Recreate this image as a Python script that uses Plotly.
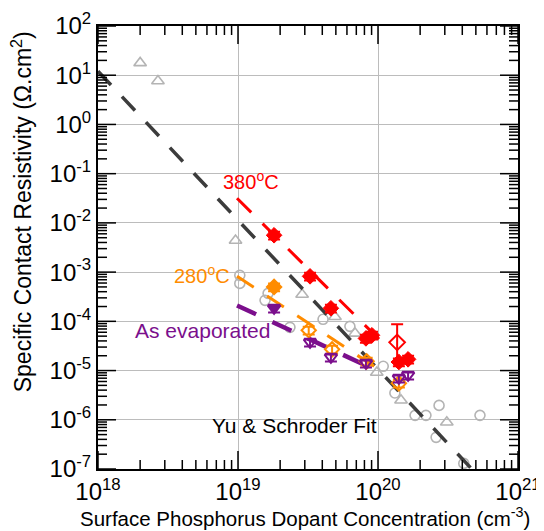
import math
import plotly.graph_objects as go

# ---------------- data ----------------
# Literature data (gray)
lit_circle_x = [1.03e19, 1.03e19, 1.56e19, 1.64e19, 2.35e19, 4.05e19, 6.3e19, 1.09e20,
                1.32e20, 1.84e20, 2.2e20, 2.73e20, 5.35e20, 2.6e20, 4.1e20]
lit_circle_y = [8.6e-4, 5.9e-4, 2.67e-4, 3.7e-4, 7.55e-5, 1.1e-4, 7.9e-5, 1.22e-5,
                3.5e-6, 1.23e-6, 1.23e-6, 1.96e-6, 1.23e-6, 4.4e-7, 1.3e-7]
lit_tri_x = [2.0e18, 2.68e18, 9.6e18, 2.87e19, 4.93e19, 6.85e19, 9.8e19, 1.46e20, 3.1e20]
lit_tri_y = [17.8, 7.65, 4.4e-3, 3.5e-4, 1.24e-4, 5.7e-5, 9.1e-6, 2.5e-6, 8.9e-7]

# Yu & Schroder fit (end points)
fit_x = [1.0e18, 4.6e20]
fit_y = [12.1, 1.05e-7]

# 380 C
r380_x = [1.81e19, 3.27e19, 4.61e19, 8.2e19, 9.06e19, 1.41e20, 1.64e20]
r380_y = [5.6e-3, 8.2e-4, 1.84e-4, 4.5e-5, 5.2e-5, 1.49e-5, 1.69e-5]
r380_open_x = [1.37e20]
r380_open_y = [3.74e-5]
r380_open_err_plus = [4.96e-5]
r380_open_err_minus = [2.25e-5]
r380_fit_x = [9.84e18, 1.09e20]
r380_fit_y = [3.16e-2, 3.57e-5]

# 280 C
o280_x = [1.81e19, 3.2e19, 4.7e19, 8.3e19, 1.41e20]
o280_y = [5.0e-4, 6.6e-5, 2.7e-5, 1.54e-5, 5.5e-6]
o280_fit_x = [9.84e18, 1.09e20]
o280_fit_y = [8.2e-4, 9.2e-6]

# As evaporated
pev_x = [1.81e19, 3.27e19, 4.61e19, 8.2e19, 1.41e20, 1.64e20]
pev_y = [1.84e-4, 3.74e-5, 1.86e-5, 1.4e-5, 6.95e-6, 8.0e-6]
pev_fit_x = [9.84e18, 9.06e19]
pev_fit_y = [2.1e-4, 1.11e-5]

x_exps = [18, 19, 20, 21]
y_exps = [2, 1, 0, -1, -2, -3, -4, -5, -6, -7]

RED = "#ff0000"
ORANGE = "#ff8c00"
PURPLE = "#7b0f8c"
GRAY = "#b4b4b4"
FIT = "#3c3c3c"

FONT = "Liberation Sans, Arial"
W, H = 536, 523  # page adds an 8px body margin
ML, MR, MT, MB = 90, 26, 18, 62
PW, PH = W - ML - MR, H - MT - MB
XR, YR = [18, 21], [-7, 2]

fig = go.Figure()

# ---- inside tick marks on all four sides, built from the axis tick values ----
major_x = [10.0 ** e for e in x_exps]
major_y = [10.0 ** e for e in y_exps]
minor_x = [m * 10.0 ** e for e in x_exps[:-1] for m in range(2, 10)]
minor_y = [m * 10.0 ** e for e in range(YR[0], YR[1]) for m in range(2, 10)]

tx, ty = [], []
for vals, L in ((major_x, 18), (minor_x, 9)):
    dy = L / PH * (YR[1] - YR[0])
    for v in vals:
        tx += [v, v, None, v, v, None]
        ty += [10.0 ** YR[0], 10.0 ** (YR[0] + dy), None, 10.0 ** YR[1], 10.0 ** (YR[1] - dy), None]
for vals, L in ((major_y, 18), (minor_y, 9)):
    dx = L / PW * (XR[1] - XR[0])
    for v in vals:
        tx += [10.0 ** XR[0], 10.0 ** (XR[0] + dx), None, 10.0 ** XR[1], 10.0 ** (XR[1] - dx), None]
        ty += [v, v, None, v, v, None]

fig.add_trace(go.Scatter(x=lit_circle_x, y=lit_circle_y, mode="markers",
                         marker=dict(symbol="circle-open", size=10, color=GRAY, line=dict(width=1.6, color=GRAY))))
fig.add_trace(go.Scatter(x=lit_tri_x, y=lit_tri_y, mode="markers",
                         marker=dict(symbol="triangle-up-open", size=11, color=GRAY, line=dict(width=1.6, color=GRAY))))

fig.add_trace(go.Scatter(x=fit_x, y=fit_y, mode="lines",
                         line=dict(color=FIT, width=3.5, dash="19px,16px")))
fig.add_trace(go.Scatter(x=r380_fit_x, y=r380_fit_y, mode="lines",
                         line=dict(color=RED, width=3, dash="20px,16px")))
fig.add_trace(go.Scatter(x=o280_fit_x, y=o280_fit_y, mode="lines",
                         line=dict(color=ORANGE, width=3, dash="20px,16px")))
fig.add_trace(go.Scatter(x=pev_fit_x, y=pev_fit_y, mode="lines",
                         line=dict(color=PURPLE, width=4.5, dash="21px,18px")))

fig.add_trace(go.Scatter(x=o280_x, y=o280_y, mode="markers",
                         marker=dict(symbol=["diamond"] + ["diamond-open"] * 4, size=11, color=ORANGE,
                                     line=dict(width=2, color=ORANGE)),
                         error_y=dict(type="percent", value=18, color=ORANGE, thickness=2, width=6)))
fig.add_trace(go.Scatter(x=pev_x, y=pev_y, mode="markers",
                         marker=dict(symbol=["triangle-down"] + ["triangle-down-open"] * 5, size=11, color=PURPLE,
                                     line=dict(width=2, color=PURPLE)),
                         error_y=dict(type="percent", value=18, color=PURPLE, thickness=2, width=6)))
fig.add_trace(go.Scatter(x=r380_x, y=r380_y, mode="markers",
                         marker=dict(symbol="diamond", size=12, color=RED, line=dict(width=1, color=RED)),
                         error_y=dict(type="percent", value=18, color=RED, thickness=2, width=6)))
fig.add_trace(go.Scatter(x=r380_open_x, y=r380_open_y, mode="markers",
                         marker=dict(symbol="diamond-open", size=12, color=RED, line=dict(width=2, color=RED)),
                         error_y=dict(type="data", symmetric=False, array=r380_open_err_plus,
                                      arrayminus=r380_open_err_minus, color=RED, thickness=2, width=6)))

fig.add_trace(go.Scatter(x=tx, y=ty, mode="lines", line=dict(color="#000000", width=1.5),
                         hoverinfo="skip", connectgaps=False))

axis_common = dict(type="log", showline=True, linecolor="#000000", linewidth=2, mirror=True,
                   ticks="", showgrid=True, gridcolor="#bcbcbc", gridwidth=1, zeroline=False,
                   automargin=False, tickfont=dict(family=FONT, size=24, color="black"))

fig.update_xaxes(**axis_common, range=XR, tickmode="array",
                 tickvals=major_x,
                 ticktext=[f"10<sup>{e}</sup>" for e in x_exps])
fig.update_yaxes(**axis_common, range=YR, tickmode="array",
                 tickvals=major_y,
                 ticktext=[f"10<sup>{e}</sup>" for e in y_exps])

ann = [
    dict(text="380<sup>o</sup>C", x=math.log10(1.24e19), y=-1.134, xref="x", yref="y",
         font=dict(color=RED, size=20, family=FONT), showarrow=False),
    dict(text="280<sup>o</sup>C", x=18.743, y=-3.045, xref="x", yref="y",
         font=dict(color=ORANGE, size=20, family=FONT), showarrow=False),
    dict(text="As evaporated", x=18.743, y=-4.183, xref="x", yref="y",
         font=dict(color=PURPLE, size=21, family=FONT), showarrow=False),
    dict(text="Yu & Schroder Fit", x=19.407, y=-6.114, xref="x", yref="y",
         font=dict(color="black", size=21, family=FONT), showarrow=False),
    dict(text="Surface Phosphorus Dopant Concentration (cm<sup>-3</sup>)", x=0.493, y=-0.109,
         xanchor="center", yanchor="middle",
         xref="paper", yref="paper", font=dict(color="black", size=20.5, family=FONT), showarrow=False),
    dict(text="Specific Contact Resistivity (\u03a9.cm<sup>2</sup>)", x=(22 - 98) / 420, y=(468.6 - 212) / 442.8,
         xanchor="center", yanchor="middle",
         xref="paper", yref="paper", textangle=-90, font=dict(color="black", size=23, family=FONT),
         showarrow=False),
]

fig.update_layout(width=W, height=H, showlegend=False,
                  paper_bgcolor="white", plot_bgcolor="white",
                  margin=dict(l=ML, r=MR, t=MT, b=MB, pad=0, autoexpand=False),
                  annotations=ann)

fig.write_html("out.html")
